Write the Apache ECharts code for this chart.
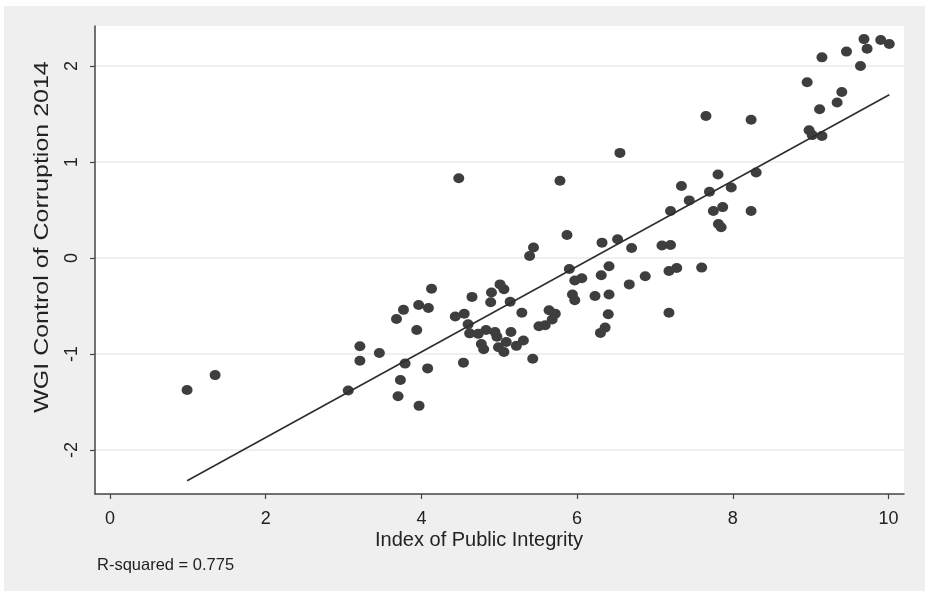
<!DOCTYPE html>
<html>
<head>
<meta charset="utf-8">
<script src="https://cdn.jsdelivr.net/npm/echarts@6/dist/echarts.min.js"></script>
<style>
html,body{margin:0;padding:0;background:#fff;}
#chart{width:925px;height:596px;}
</style>
</head>
<body>
<div id="chart"></div>
<script>
// Index of Public Integrity (x) vs WGI Control of Corruption 2014 (y)
const ipi = [0.99,1.35,3.06,3.21,3.21,3.46,3.77,3.68,3.79,3.73,3.70,3.97,4.08,3.94,3.965,4.09,4.13,4.48,4.54,4.65,
  4.435,4.55,4.60,4.62,4.73,4.83,4.945,4.77,4.80,4.97,5.01,5.06,4.90,4.89,5.14,4.99,5.06,5.09,5.15,5.22,
  5.31,5.29,5.43,5.51,5.59,5.64,5.72,5.68,5.44,5.39,5.78,5.87,5.90,5.97,6.06,5.94,5.97,6.23,6.41,6.40,
  6.36,6.30,6.31,6.41,6.32,6.52,6.70,6.55,6.67,6.875,7.18,7.28,7.18,7.09,7.20,7.60,7.20,7.44,7.34,7.655,
  7.70,7.81,7.98,7.75,7.87,7.815,7.85,8.235,8.30,8.235,8.955,8.98,9.02,9.145,9.115,9.34,9.40,9.145,9.46,9.64,
  9.685,9.725,9.90,10.01];
const wgi = [-1.375,-1.22,-1.38,-0.92,-1.07,-0.99,-0.54,-0.635,-1.10,-1.27,-1.44,-1.54,-1.15,-0.75,-0.49,-0.52,-0.32,0.83,-1.09,-0.405,
  -0.61,-0.58,-0.69,-0.785,-0.79,-0.75,-0.77,-0.895,-0.95,-0.82,-0.275,-0.325,-0.36,-0.46,-0.455,-0.93,-0.98,-0.875,-0.77,-0.915,
  -0.86,-0.57,-1.05,-0.71,-0.70,-0.545,-0.58,-0.64,0.11,0.02,0.805,0.24,-0.115,-0.235,-0.21,-0.38,-0.44,-0.395,-0.38,-0.585,
  -0.725,-0.78,-0.18,-0.085,0.16,0.195,0.105,1.095,-0.275,-0.19,-0.135,-0.105,-0.57,0.13,0.135,-0.10,0.49,0.60,0.75,1.48,
  0.69,0.87,0.735,0.49,0.53,0.355,0.32,0.49,0.89,1.44,1.83,1.33,1.28,1.27,1.55,1.62,1.73,2.09,2.15,2.00,
  2.28,2.18,2.27,2.23];
// Fitted line endpoints
const fitX = [0.99, 10.01];
const fitY = [-2.32, 1.70];
const xTicks = [0, 2, 4, 6, 8, 10];
const yTicks = [-2, -1, 0, 1, 2];
const xTitle = 'Index of Public Integrity';
const yTitle = 'WGI Control of Corruption 2014';
const note = 'R-squared = 0.775';

const points = ipi.map((v, i) => [v, wgi[i]]);
const fitData = fitX.map((v, i) => [v, fitY[i]]);
const FONT = '"Liberation Sans", Arial, sans-serif';

const chart = echarts.init(document.getElementById('chart'), null, {renderer: 'canvas'});
chart.setOption({
  animation: false,
  backgroundColor: '#ffffff',
  graphic: [
    {type: 'rect', z: -10, silent: true, shape: {x: 4, y: 6, width: 921, height: 585}, style: {fill: '#efefef'}},
    {type: 'text', z: 10, style: {text: xTitle, x: 479, y: 540, align: 'center', verticalAlign: 'middle', font: '20px ' + FONT, fill: '#222'}},
    {type: 'text', z: 10, x: 42, y: 237, rotation: Math.PI / 2, scaleX: 1.25, scaleY: 1, style: {text: yTitle, x: 0, y: 0, align: 'center', verticalAlign: 'middle', font: '20px ' + FONT, fill: '#222'}},
    {type: 'text', z: 10, style: {text: note, x: 97, y: 565, align: 'left', verticalAlign: 'middle', font: '16.5px ' + FONT, fill: '#222'}}
  ],
  grid: {left: 95, right: 21, top: 26, bottom: 102, show: true, backgroundColor: '#ffffff', borderWidth: 0},
  xAxis: {
    type: 'value', min: -0.1927, max: 10.199,
    axisLine: {show: true, onZero: false, lineStyle: {color: '#444', width: 1.5}},
    axisTick: {show: true, length: 5, lineStyle: {color: '#444', width: 1.2}, customValues: xTicks},
    axisLabel: {customValues: xTicks, fontSize: 18, fontFamily: FONT, color: '#222', margin: 16},
    splitLine: {show: false}
  },
  yAxis: {
    type: 'value', min: -2.4583, max: 2.4167,
    axisLine: {show: true, onZero: false, lineStyle: {color: '#444', width: 1.5}},
    axisTick: {show: true, length: 5, lineStyle: {color: '#444', width: 1.2}, customValues: yTicks},
    axisLabel: {customValues: yTicks, rotate: 90, fontSize: 18, fontFamily: FONT, color: '#222', margin: 14},
    splitLine: {show: true, lineStyle: {color: '#ebebeb', width: 1.5}}
  },
  series: [
    {type: 'scatter', data: points, symbol: 'circle', symbolSize: [11, 10], itemStyle: {color: '#3e3e3e', opacity: 1}, z: 3},
    {type: 'line', data: fitData, symbol: 'none', lineStyle: {color: '#2e2e2e', width: 1.6}, z: 4}
  ]
});
</script>
</body>
</html>
